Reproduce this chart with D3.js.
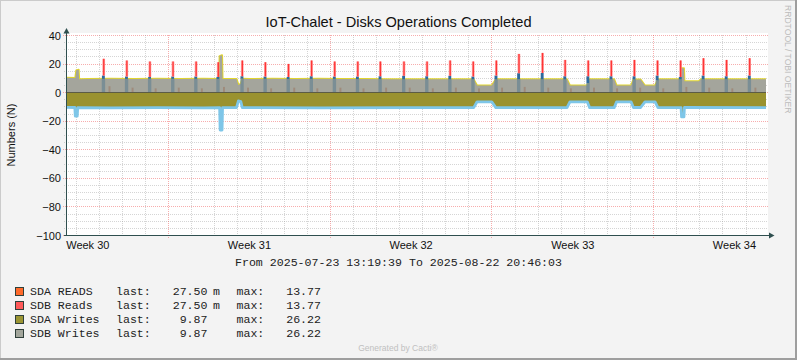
<!DOCTYPE html>
<html><head><meta charset="utf-8">
<script src="https://cdn.jsdelivr.net/npm/d3@7"></script>
<style>
html,body{margin:0;padding:0;background:#f3f3f3;}
svg{display:block;}
text{font-family:"Liberation Sans",Arial,sans-serif;}
.mono{font-family:"Liberation Mono","DejaVu Sans Mono",monospace;white-space:pre;}
</style></head><body>
<svg id="c" width="797" height="360"></svg>
<script>
// ---------------- data ----------------
const title = "IoT-Chalet - Disks Operations Completed";
const yLabel = "Numbers (N)";
const rangeStart = "2025-07-23 13:19:39";
const rangeEnd = "2025-08-22 20:46:03";
const yTicks = [40, 20, 0, -20, -40, -60, -80, -100];
const weekLabels = ["Week 30", "Week 31", "Week 32", "Week 33", "Week 34"];
const weekLabelTimes = ["07-24 12:00", "07-31 12:00", "08-07 12:00", "08-14 12:00", "08-21 12:00"];

// SDB Writes (positive side) — [time, value]
const sdbWrites = [
  ["07-23 13:00",10.4],["07-23 23:00",10.3],["07-24 00:00",15.6],["07-24 02:30",16.0],["07-24 03:00",9.3],
  ["07-24 12:00",9.5],["07-25 12:00",9.7],["07-26 12:00",9.6],["07-27 12:00",9.8],["07-28 12:00",9.6],["07-29 12:00",9.7],
  ["07-30 04:30",9.6],["07-30 05:00",25.6],["07-30 07:30",26.2],["07-30 08:00",9.5],
  ["07-30 22:30",9.6],["07-31 00:30",5.4],["07-31 03:00",6.2],["07-31 04:30",9.8],
  ["07-31 12:00",9.6],["08-01 12:00",9.7],["08-02 12:00",9.5],["08-03 12:00",9.7],["08-04 12:00",9.6],
  ["08-05 12:00",9.5],["08-06 12:00",9.4],["08-07 12:00",9.3],["08-08 12:00",9.4],["08-09 12:00",9.3],
  ["08-10 05:00",9.3],["08-10 08:30",5.0],["08-10 23:45",5.0],["08-11 04:00",9.3],
  ["08-12 12:00",9.4],["08-13 12:00",9.3],
  ["08-14 06:00",9.3],["08-14 09:00",5.0],["08-15 03:00",5.0],["08-15 05:30",9.3],
  ["08-16 07:00",9.3],["08-16 09:30",5.0],["08-17 00:30",5.0],["08-17 03:00",9.2],
  ["08-17 10:30",9.2],["08-17 15:00",5.0],["08-18 01:30",5.0],["08-18 04:30",9.3],
  ["08-19 04:30",9.3],["08-19 05:00",17.0],["08-19 07:30",17.0],["08-19 08:00",8.0],["08-19 23:00",8.0],["08-20 01:00",9.3],
  ["08-21 12:00",9.4],["08-22 21:00",9.3]
];

// SDA Writes (drawn negative) — [time, value]
const sdaWritesNeg = [
  ["07-23 13:00",-10.3],["07-23 22:30",-10.4],["07-23 23:00",-16.5],["07-24 01:00",-16.5],["07-24 01:30",-10.5],
  ["07-25 12:00",-10.6],["07-27 12:00",-10.5],["07-29 12:00",-10.6],
  ["07-30 05:00",-10.5],["07-30 05:30",-26.2],["07-30 07:30",-26.2],["07-30 08:00",-10.5],
  ["07-30 22:30",-10.5],["07-31 00:30",-5.8],["07-31 03:00",-6.2],["07-31 04:30",-10.5],
  ["08-03 12:00",-10.6],["08-07 12:00",-10.5],
  ["08-10 05:00",-10.5],["08-10 08:30",-6.4],["08-10 23:45",-6.4],["08-11 04:00",-10.5],
  ["08-14 06:00",-10.5],["08-14 09:00",-6.4],["08-15 03:00",-6.4],["08-15 05:30",-10.5],
  ["08-16 07:00",-10.5],["08-16 09:30",-6.4],["08-17 00:30",-6.4],["08-17 03:00",-10.4],
  ["08-17 10:30",-10.4],["08-17 15:00",-6.4],["08-18 01:30",-6.4],["08-18 04:30",-10.5],
  ["08-19 04:30",-10.5],["08-19 05:00",-17.0],["08-19 07:30",-17.0],["08-19 08:00",-10.4],
  ["08-22 21:00",-10.5]
];

// daily read bursts
const spikeTimes = ["07-25 04:30","07-26 04:30","07-27 04:30","07-28 04:30","07-29 04:30","07-30 03:30","07-31 04:30",
  "08-01 04:30","08-02 04:30","08-03 04:30","08-04 04:30","08-05 04:30","08-06 04:00","08-07 04:30","08-08 04:30",
  "08-09 04:30","08-10 04:30","08-11 04:30","08-12 04:00","08-13 04:30","08-14 04:00","08-15 04:00","08-16 04:00",
  "08-17 04:00","08-18 04:00","08-19 04:00","08-20 03:45","08-21 03:45","08-22 03:45"];
const sdaReadsTop = [12.0,11.3,11.0,11.3,11.3,11.0,11.5,11.3,11.0,11.5,11.3,11.3,11.5,11.8,11.5,
  11.8,11.3,12.0,13.6,13.8,11.5,11.5,11.5,11.5,12.0,11.0,12.0,11.5,12.0];
const sdbReadsTop = [23.7,22.5,21.8,21.8,21.8,21.3,22.5,21.3,20.1,22.5,21.8,21.8,21.8,21.8,21.8,
  22.5,21.8,22.5,27.1,27.8,22.9,22.5,22.5,22.9,22.5,22.5,24.1,22.9,24.1];
const readsAfter = [4.5,3.5,3.0,3.5,3.0,4.0,3.5,3.0,3.5,3.0,3.5,3.0,3.5,3.5,3.0,
  3.5,3.0,3.5,4.0,3.5,3.0,3.5,3.0,3.5,3.0,4.0,3.5,3.0,3.5];

const legendNames = ["SDA READS", "SDB Reads", "SDA Writes", "SDB Writes"];
const legendLast = ["27.50", "27.50", "9.87", "9.87"];
const legendLastUnit = ["m", "m", "", ""];
const legendMax = ["13.77", "13.77", "26.22", "26.22"];
const legendColors = ["#ff6a2b", "#ff5a5a", "#9b9533", "#a3a69c"];

// ---------------- drawing ----------------
const W = 797, H = 360;
const svg = d3.select("#c");
const PT = d3.timeParse("%Y-%m-%d %H:%M");
const PS = d3.timeParse("%Y-%m-%d %H:%M:%S");
const pt = s => PT("2025-" + s);
const t0 = PS(rangeStart), t1 = PS(rangeEnd);

const x = d3.scaleTime().domain([t0, t1]).range([66, 766]);
const y = d3.scaleLinear().domain([-100, 40]).range([235.5, 35.5]);
const crisp = v => Math.floor(v) + 0.5;

const pos = sdbWrites.map(d => ({t: pt(d[0]), v: d[1]}));
const neg = sdaWritesNeg.map(d => ({t: pt(d[0]), v: d[1]}));
const bis = d3.bisector(d => d.t).left;
function levelAt(series, t) {
  const i = bis(series, t);
  if (i <= 0) return series[0].v;
  if (i >= series.length) return series[series.length - 1].v;
  const a = series[i - 1], b = series[i];
  return a.v + (b.v - a.v) * (t - a.t) / (b.t - a.t);
}
const off = (t, m) => d3.timeMinute.offset(t, m);

// background + frame
svg.append("rect").attr("width", W).attr("height", H).attr("fill", "#f3f3f3");
svg.append("path").attr("d", `M0,${H}V0H${W}`).attr("fill", "none").attr("stroke", "#cbcbcb").attr("stroke-width", 2);
svg.append("path").attr("d", `M0,${H - 1}H${W - 1}V0`).attr("fill", "none").attr("stroke", "#9e9e9e").attr("stroke-width", 2);

// canvas
svg.append("rect").attr("x", 66).attr("y", 33).attr("width", 702).attr("height", 203).attr("fill", "#ffffff");

// grid
const g = svg.append("g");
const minorVals = d3.range(40, -100.1, -5);
minorVals.forEach(v => {
  const major = v % 20 === 0;
  g.append("line").attr("x1", major ? 63 : 64).attr("x2", 768)
    .attr("y1", crisp(y(v))).attr("y2", crisp(y(v)))
    .attr("stroke", major ? "rgba(235,60,60,0.42)" : "rgba(150,150,150,0.4)")
    .attr("stroke-dasharray", "1,1");
});
d3.timeDay.range(d3.timeDay.ceil(t0), t1).forEach(d => {
  const major = d.getDay() === 1;
  const xx = crisp(x(d));
  g.append("line").attr("x1", xx).attr("x2", xx).attr("y1", 35).attr("y2", major ? 238 : 237)
    .attr("stroke", major ? "rgba(235,60,60,0.42)" : "rgba(150,150,150,0.4)")
    .attr("stroke-dasharray", "1,1");
});

// data layers
svg.append("clipPath").attr("id", "clip").append("rect").attr("x", 66).attr("y", 20).attr("width", 700).attr("height", 216);
const D = svg.append("g").attr("clip-path", "url(#clip)");

const areaFn = d3.area().x(d => x(d.t)).y0(y(0)).y1(d => y(d.v));
const lineFn = d3.line().x(d => x(d.t)).y(d => y(d.v));

D.append("path").datum(neg).attr("d", areaFn).attr("fill", "#9a922f");
D.append("path").datum(neg).attr("d", lineFn).attr("fill", "none").attr("stroke", "#7ec6e8")
  .attr("stroke-width", 2.8).attr("stroke-linejoin", "round");
D.append("path").datum(pos).attr("d", lineFn).attr("fill", "none").attr("stroke", "#e2d62e")
  .attr("stroke-width", 2).attr("stroke-linejoin", "round");
D.append("path").datum(pos).attr("d", areaFn).attr("fill", "#a4a59c");

const spikes = spikeTimes.map((s, i) => {
  const t = pt(s);
  return {t, lvl: levelAt(pos, t), mid: sdaReadsTop[i], top: sdbReadsTop[i], after: readsAfter[i]};
});

// inner darker stripes (reads under writes)
D.selectAll(".stripe").data(spikes).join("rect")
  .attr("x", d => x(off(d.t, -120))).attr("width", d => x(off(d.t, 90)) - x(off(d.t, -120)))
  .attr("y", d => y(d.lvl)).attr("height", d => y(0) - y(d.lvl))
  .attr("fill", "#6f8894").attr("opacity", 0.8);
// small reads after the burst
D.selectAll(".bump").data(spikes).join("rect")
  .attr("x", d => x(off(d.t, 300))).attr("width", d => x(off(d.t, 420)) - x(off(d.t, 300)))
  .attr("y", d => y(d.after)).attr("height", d => y(0) - y(d.after))
  .attr("fill", "#9c7a66").attr("opacity", 0.6);

// zero line
D.append("line").attr("x1", 66).attr("x2", 766).attr("y1", crisp(y(0))).attr("y2", crisp(y(0)))
  .attr("stroke", "#5c5c45").attr("stroke-width", 1);

// dark blue marks
D.selectAll(".bm").data(spikes).join("rect")
  .attr("x", d => x(off(d.t, -110))).attr("width", d => x(off(d.t, 70)) - x(off(d.t, -110)))
  .attr("y", d => y(d.mid)).attr("height", d => Math.max(0, y(d.lvl) - y(d.mid)))
  .attr("fill", "#2e6a9c");
// red spikes (halo + core)
D.selectAll(".rh").data(spikes).join("rect")
  .attr("x", d => x(off(d.t, -85))).attr("width", d => x(off(d.t, 85)) - x(off(d.t, -85)))
  .attr("y", d => y(d.top)).attr("height", d => y(d.mid) - y(d.top))
  .attr("fill", "#ff8c8c").attr("opacity", 0.8);
D.selectAll(".rc").data(spikes).join("rect")
  .attr("x", d => x(off(d.t, -35))).attr("width", d => x(off(d.t, 45)) - x(off(d.t, -35)))
  .attr("y", d => y(d.top)).attr("height", d => y(d.mid) - y(d.top))
  .attr("fill", "#ff3434");

// axes
const axisC = "#2f4f4f";
svg.append("line").attr("x1", 66.5).attr("x2", 66.5).attr("y1", 236).attr("y2", 32).attr("stroke", axisC);
svg.append("line").attr("x1", 64).attr("x2", 770).attr("y1", 235.5).attr("y2", 235.5).attr("stroke", axisC);
svg.append("path").attr("d", "M63.5,33.5L69.5,33.5L66.5,28Z").attr("fill", axisC);
svg.append("path").attr("d", "M769,232.5L769,238.5L774.5,235.5Z").attr("fill", axisC);

// y tick labels
const fmt = d3.format("d");
svg.selectAll(".yl").data(yTicks).join("text")
  .attr("x", 61).attr("y", d => y(d) + 4)
  .attr("text-anchor", "end").attr("font-size", 11).attr("fill", "#111").text(d => fmt(d));
// x labels
svg.selectAll(".xl").data(weekLabels).join("text")
  .attr("x", (d, i) => x(pt(weekLabelTimes[i]))).attr("y", 249)
  .attr("text-anchor", "middle").attr("font-size", 11).attr("fill", "#111").text(d => d);

// title & axis label
svg.append("text").attr("x", 398.5).attr("y", 27.3).attr("text-anchor", "middle")
  .attr("font-size", 14.6).attr("fill", "#111").text(title);
svg.append("text").attr("transform", "translate(15,135) rotate(-90)").attr("text-anchor", "middle")
  .attr("font-size", 11).attr("fill", "#111").text(yLabel);

// watermark
svg.append("text").attr("transform", "translate(785,5) rotate(90)")
  .attr("font-size", 8.6).attr("fill", "#bcbcbc").text("RRDTOOL / TOBI OETIKER");

// from/to
svg.append("text").attr("class", "mono").attr("x", 398.5).attr("y", 266).attr("text-anchor", "middle")
  .attr("font-size", 11.6).attr("fill", "#222")
  .text("From " + rangeStart + " To " + rangeEnd);

// legend
legendNames.forEach((n, i) => {
  const by = 294.5 + i * 14;
  svg.append("rect").attr("x", 15.5).attr("y", by - 7).attr("width", 8).attr("height", 8)
    .attr("fill", legendColors[i]).attr("stroke", "#2f3f3a").attr("stroke-width", 1);
  const t = (xx, s, anchor) => svg.append("text").attr("class", "mono").attr("x", xx).attr("y", by)
    .attr("font-size", 11.6).attr("fill", "#222").attr("text-anchor", anchor || "start").text(s);
  t(30, n);
  t(116, "last:");
  t(207.5, legendLast[i], "end");
  if (legendLastUnit[i]) t(213, legendLastUnit[i]);
  t(236.5, "max:");
  t(321, legendMax[i], "end");
});

svg.append("text").attr("x", 398).attr("y", 350.5).attr("text-anchor", "middle")
  .attr("font-size", 8.5).attr("fill", "#c0c0c0").text("Generated by Cacti®");
</script>
</body></html>
